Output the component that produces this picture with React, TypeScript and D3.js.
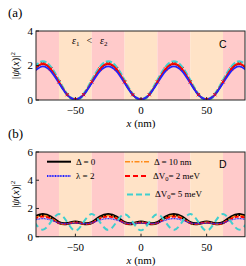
import * as d3 from "d3";

// sample grid (nm)
const xs = [-81.25, -75, -68.75, -62.5, -56.25, -50, -43.75, -37.5, -31.25, -25, -18.75, -12.5, -6.25, 0,
  6.25, 12.5, 18.75, 25, 31.25, 37.5, 43.75, 50, 56.25, 62.5, 68.75, 75, 81.25];

// band edges, pink / peach alternating
const bandEdges = [-85, -62.5, -37.5, -12.5, 12.5, 37.5, 62.5, 85];
const bandColors = ["#ffcaca", "#ffe3c7"];

// panel (a) values
const aBlack = [1.78, 2.08, 1.78, 1.04, 0.31, 0.03, 0.31, 1.04, 1.78, 2.08, 1.78, 1.04, 0.31, 0.03, 0.31, 1.04, 1.78, 2.08, 1.78, 1.04, 0.31, 0.03, 0.31, 1.04, 1.78, 2.08, 1.78];
const aOrange = [1.81, 2.12, 1.81, 1.06, 0.31, 0.02, 0.31, 1.06, 1.81, 2.12, 1.81, 1.06, 0.31, 0.02, 0.31, 1.06, 1.81, 2.12, 1.81, 1.06, 0.31, 0.02, 0.31, 1.06, 1.81, 2.12, 1.81];
const aRed = [1.80, 2.10, 1.80, 1.05, 0.31, 0.03, 0.31, 1.05, 1.80, 2.10, 1.80, 1.05, 0.31, 0.03, 0.31, 1.05, 1.80, 2.10, 1.80, 1.05, 0.31, 0.03, 0.31, 1.05, 1.80, 2.10, 1.80];
const aBlue = [1.67, 1.95, 1.67, 0.98, 0.30, 0.05, 0.30, 0.98, 1.67, 1.95, 1.67, 0.98, 0.30, 0.05, 0.30, 0.98, 1.67, 1.95, 1.67, 0.98, 0.30, 0.05, 0.30, 0.98, 1.67, 1.95, 1.67];
const aCyan = [1.89, 2.22, 1.89, 1.10, 0.32, 0.01, 0.32, 1.10, 1.89, 2.22, 1.89, 1.10, 0.32, 0.01, 0.32, 1.10, 1.89, 2.22, 1.89, 1.10, 0.32, 0.01, 0.32, 1.10, 1.89, 2.22, 1.89];

// panel (b) values
const bBlack = [1.40, 1.58, 1.40, 1.00, 0.93, 1.05, 0.93, 1.00, 1.40, 1.58, 1.40, 1.00, 0.93, 1.05, 0.93, 1.00, 1.40, 1.58, 1.40, 1.00, 0.93, 1.05, 0.93, 1.00, 1.40, 1.58, 1.40];
const bOrange = [1.34, 1.50, 1.34, 0.98, 0.92, 1.02, 0.92, 0.98, 1.34, 1.50, 1.34, 0.98, 0.92, 1.02, 0.92, 0.98, 1.34, 1.50, 1.34, 0.98, 0.92, 1.02, 0.92, 0.98, 1.34, 1.50, 1.34];
const bRed = [1.28, 1.42, 1.28, 0.97, 0.92, 1.00, 0.92, 0.97, 1.28, 1.42, 1.28, 0.97, 0.92, 1.00, 0.92, 0.97, 1.28, 1.42, 1.28, 0.97, 0.92, 1.00, 0.92, 0.97, 1.28, 1.42, 1.28];
const bBlue = [1.18, 1.28, 1.18, 0.98, 0.93, 0.97, 0.93, 0.98, 1.18, 1.28, 1.18, 0.98, 0.93, 0.97, 0.93, 0.98, 1.18, 1.28, 1.18, 0.98, 0.93, 0.97, 0.93, 0.98, 1.18, 1.28, 1.18];
const bCyan = [1.03, 0.50, 1.03, 1.60, 1.03, 0.42, 1.03, 1.60, 1.03, 0.48, 1.03, 1.60, 1.03, 0.45, 1.03, 1.60, 1.03, 0.48, 1.03, 1.60, 1.03, 0.42, 1.03, 1.60, 1.03, 0.50, 1.03];

const xTicks = [-50, 0, 50];
const aYTicks = [0, 2, 4];
const bYTicks = [0, 2, 4, 6];

const serif = "'Liberation Serif', 'DejaVu Serif', serif";
const sans = "'Liberation Sans', 'DejaVu Sans', sans-serif";

type Series = { vals: number[]; color: string; width: number; dash?: string; cap?: string };

const x = d3.scaleLinear().domain([-80, 80]).range([36, 246]);

function Panel(props: {
  id: string; top: number; bottom: number; yMax: number; yTicks: number[];
  series: Series[]; label: string; letter: string; markers?: number[]; children?: any;
}) {
  const { id, top, bottom, yMax, yTicks, series, label, letter } = props;
  const y = d3.scaleLinear().domain([0, yMax]).range([bottom, top]);
  const line = d3.line<number>().x((_, i) => x(xs[i])).y((v) => y(v)).curve(d3.curveNatural);
  const x0 = x.range()[0];
  const x1 = 245;
  const midY = (top + bottom) / 2;
  return (
    <g>
      <defs>
        <clipPath id={id}>
          <rect x={x0} y={top} width={x1 - x0} height={bottom - top} />
        </clipPath>
      </defs>
      <g clipPath={`url(#${id})`}>
        {bandEdges.slice(0, -1).map((e, i) => (
          <rect key={i} x={x(e)} y={top} width={x(bandEdges[i + 1]) - x(e)} height={bottom - top}
            fill={bandColors[i % 2]} />
        ))}
        {series.map((s, i) => (
          <path key={i} d={line(s.vals) || ""} fill="none" stroke={s.color} strokeWidth={s.width}
            strokeDasharray={s.dash} strokeLinecap={(s.cap as any) || "butt"} />
        ))}
        {props.markers && xs.map((xv, i) => {
          const cx = x(xv), cy = y(props.markers![i]);
          return (
            <path key={"m" + i} d={`M${cx - 1.6},${cy - 1.6}L${cx + 1.6},${cy + 1.6}M${cx - 1.6},${cy + 1.6}L${cx + 1.6},${cy - 1.6}`}
              stroke="#ff0000" strokeWidth={1} />
          );
        })}
      </g>
      <rect x={x0} y={top} width={x1 - x0} height={bottom - top} fill="none" stroke="#222" strokeWidth={1} />
      {xTicks.map((t) => (
        <g key={t}>
          <line x1={x(t)} x2={x(t)} y1={bottom} y2={bottom - 3} stroke="#222" />
          <text x={x(t)} y={bottom + 14} textAnchor="middle" fontFamily={serif} fontSize={11}>
            {t < 0 ? "\u2212" + Math.abs(t) : t}
          </text>
        </g>
      ))}
      {yTicks.map((t) => (
        <g key={t}>
          <line x1={x0} x2={x0 + 3} y1={y(t)} y2={y(t)} stroke="#222" />
          <text x={x0 - 3} y={y(t) + 3.8} textAnchor="end" fontFamily={serif} fontSize={11}>{t}</text>
        </g>
      ))}
      <text x={141} y={bottom + 27} textAnchor="middle" fontFamily={serif} fontSize={11}>
        <tspan fontStyle="italic">x</tspan> (nm)
      </text>
      <text transform={`translate(19,${midY}) rotate(-90)`} textAnchor="middle" fontFamily={serif} fontSize={11}>
        |<tspan fontStyle="italic">ψ</tspan>(<tspan fontStyle="italic">x</tspan>)|<tspan fontSize={7} dy={-4}>2</tspan>
      </text>
      <text x={8} y={top - 14} fontFamily={serif} fontSize={13}>{label}</text>
      <text x={219} y={top + (id === "ca" ? 17.3 : 16)} fontFamily={sans} fontSize={10.5}>{letter}</text>
      {props.children}
    </g>
  );
}

const legendRows = [
  { x: 47, y: 161.7, w: 24, color: "#000", width: 2, dash: undefined as string | undefined, label: "Δ = 0" },
  { x: 47, y: 176, w: 24, color: "#2222ff", width: 2, dash: "1,0.6", label: "λ = 2" },
  { x: 125, y: 161.7, w: 24, color: "#ff8c1a", width: 1.5, dash: "5,1.5,1.5,1.5", label: "Δ = 10 nm" },
];

export default function App() {
  return (
    <svg width={246} height={266} style={{ position: "absolute", left: 0, top: 0, background: "#fff" }}>
      <Panel id="ca" top={31} bottom={100} yMax={4} yTicks={aYTicks} label="(a)" letter="C" markers={aRed}
        series={[
          { vals: aCyan, color: "#3fcfcf", width: 3, dash: "6,2" },
          { vals: aBlack, color: "#000", width: 1.5 },
          { vals: aOrange, color: "#ff8c1a", width: 1.2 },
          { vals: aRed, color: "#ff0000", width: 1.5 },
          { vals: aBlue, color: "#2222ff", width: 1.8 },
        ]}>
        <text x={72} y={44} fontFamily={serif} fontSize={10}>
          <tspan fontStyle="italic">ε</tspan><tspan fontSize={7} dy={1.5}>1</tspan>
          <tspan dy={-1.5} dx={7}>&lt;</tspan>
          <tspan dx={8} fontStyle="italic">ε</tspan><tspan fontSize={7} dy={1.5}>2</tspan>
        </text>
      </Panel>
      <Panel id="cb" top={152} bottom={236.7} yMax={6} yTicks={bYTicks} label="(b)" letter="D"
        series={[
          { vals: bBlack, color: "#000", width: 3 },
          { vals: bOrange, color: "#ff8c1a", width: 1.5, dash: "5,1.5,1.5,1.5" },
          { vals: bRed, color: "#ff0000", width: 1.8, dash: "4,2" },
          { vals: bBlue, color: "#2222ff", width: 1.2, dash: "1,0.6" },
          { vals: bCyan, color: "#3fcfcf", width: 2, dash: "6,4" },
        ]}>
        {legendRows.map((r, i) => (
          <g key={i}>
            <line x1={r.x} x2={r.x + r.w} y1={r.y} y2={r.y} stroke={r.color} strokeWidth={r.width} strokeDasharray={r.dash} />
            <text x={r.x + r.w + 5} y={r.y + 2.8} fontFamily={serif} fontSize={9}>{r.label}</text>
          </g>
        ))}
        <line x1={125} x2={149} y1={176} y2={176} stroke="#ff0000" strokeWidth={2} strokeDasharray="5,3" />
        <text x={153} y={178.8} fontFamily={serif} fontSize={9}>ΔV<tspan fontSize={6.5} dy={2}>0</tspan><tspan dy={-2}>= 2 meV</tspan></text>
        <line x1={127} x2={150} y1={194.5} y2={194.5} stroke="#3fcfcf" strokeWidth={2} strokeDasharray="6,3" />
        <text x={155} y={197.3} fontFamily={serif} fontSize={9}>ΔV<tspan fontSize={6.5} dy={2}>0</tspan><tspan dy={-2}>= 5 meV</tspan></text>
      </Panel>
    </svg>
  );
}
